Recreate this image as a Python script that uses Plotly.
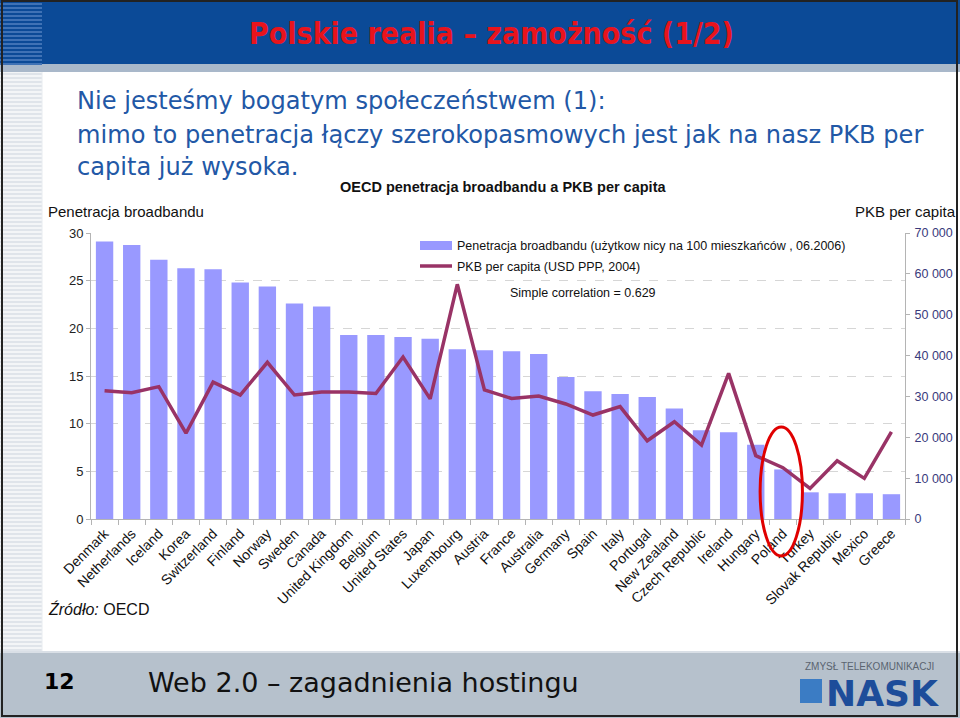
import plotly.graph_objects as go

# ---------------- data ----------------
countries = ["Denmark", "Netherlands", "Iceland", "Korea", "Switzerland", "Finland",
             "Norway", "Sweden", "Canada", "United Kingdom", "Belgium", "United States",
             "Japan", "Luxembourg", "Austria", "France", "Australia", "Germany", "Spain",
             "Italy", "Portugal", "New Zealand", "Czech Republic", "Ireland", "Hungary",
             "Poland", "Turkey", "Slovak Republic", "Mexico", "Greece"]
broadband = [29.1, 28.75, 27.2, 26.3, 26.2, 24.8, 24.4, 22.6, 22.3, 19.3, 19.3, 19.1,
             18.9, 17.8, 17.7, 17.6, 17.3, 14.9, 13.4, 13.1, 12.8, 11.6, 9.3, 9.1, 7.8,
             5.2, 2.8, 2.7, 2.7, 2.6]
gdp = [31400, 30900, 32400, 21000, 33500, 30350, 38350, 30350, 31100, 31100, 30700,
       39650, 29400, 57450, 31600, 29500, 30100, 28150, 25450, 27500, 19150, 23800,
       18100, 35650, 15500, 12550, 7500, 14250, 9950, 21350]
left_ticks = [0, 5, 10, 15, 20, 25, 30]
right_ticks = [0, 10000, 20000, 30000, 40000, 50000, 60000, 70000]
right_tick_labels = ["0", "10 000", "20 000", "30 000", "40 000", "50 000", "60 000", "70 000"]
bar_name = "Penetracja broadbandu (użytkow nicy na 100 mieszkańców , 06.2006)"
line_name = "PKB per capita (USD PPP, 2004)"
highlight = "Poland"

W, H = 960, 718
def px(x): return x / W
def py(y): return 1 - y / H

BAR_C = "#9999ff"
LINE_C = "#993366"
ARIAL = "Liberation Sans, Arial, sans-serif"
TAHOMA = "DejaVu Sans, Verdana, sans-serif"

fig = go.Figure()
fig.add_trace(go.Bar(x=countries, y=broadband, name=bar_name, marker_color=BAR_C,
                     marker_line_width=0, showlegend=False, yaxis="y"))
fig.add_trace(go.Scatter(x=countries, y=gdp, name=line_name, mode="lines",
                         line=dict(color=LINE_C, width=3.5), showlegend=False, yaxis="y2"))

shapes = []
# slide background decoration
shapes.append(dict(type="rect", xref="paper", yref="paper", x0=0, x1=1, y0=py(64), y1=1,
                   fillcolor="#0b4a97", line_width=0, layer="below"))
shapes.append(dict(type="rect", xref="paper", yref="paper", x0=0, x1=1, y0=py(72), y1=py(64),
                   fillcolor="#a9b8ca", line_width=0, layer="below"))
shapes.append(dict(type="rect", xref="paper", yref="paper", x0=0, x1=1, y0=0, y1=py(651),
                   fillcolor="#b6c1cc", line_width=0, layer="below"))
shapes.append(dict(type="line", xref="paper", yref="paper", x0=0, x1=1, y0=py(652), y1=py(652),
                   line=dict(color="#d9dfe6", width=2), layer="below"))
# left striped strip
shapes.append(dict(type="rect", xref="paper", yref="paper", x0=0, x1=px(42), y0=py(651), y1=py(72),
                   fillcolor="#f3f5f7", line_width=0, layer="below"))
for yy in range(73, 651, 4):
    shapes.append(dict(type="rect", xref="paper", yref="paper", x0=0, x1=px(42),
                       y0=py(yy + 2), y1=py(yy), fillcolor="#dfe4ea", line_width=0, layer="below"))
for yy in range(3, 64, 4):
    shapes.append(dict(type="rect", xref="paper", yref="paper", x0=0, x1=px(42),
                       y0=py(yy + 2), y1=py(yy), fillcolor="#3f72b5", line_width=0, layer="below"))
shapes.append(dict(type="line", xref="paper", yref="paper", x0=px(42), x1=px(42), y0=py(651), y1=py(72),
                   line=dict(color="#e8ecf0", width=1), layer="below"))
# frame
shapes.append(dict(type="rect", xref="paper", yref="paper", x0=px(2), x1=px(957), y0=py(716), y1=py(1),
                   line=dict(color="#222222", width=2), layer="above"))
# legend (manual)
shapes.append(dict(type="rect", xref="paper", yref="paper", x0=px(420), x1=px(452), y0=py(250), y1=py(241),
                   fillcolor=BAR_C, line_width=0))
shapes.append(dict(type="line", xref="paper", yref="paper", x0=px(420), x1=px(452), y0=py(266), y1=py(266),
                   line=dict(color=LINE_C, width=3.5)))
# highlight ellipse around Poland
pi = countries.index(highlight)
shapes.append(dict(type="circle", xref="x", yref="paper", x0=pi - 0.84, x1=pi + 0.72,
                   y0=py(556), y1=py(427), line=dict(color="#e00000", width=3), layer="above"))
# NASK icon
shapes.append(dict(type="rect", xref="paper", yref="paper", x0=px(800), x1=px(822), y0=py(703), y1=py(679),
                   fillcolor="#3b7cc4", line_width=0))

ann = []
def text(x, y, s, size, color="#000000", family=ARIAL, xanchor="left", bold=False):
    if bold:
        s = "<b>" + s + "</b>"
    ann.append(dict(x=px(x), y=py(y), xref="paper", yref="paper", text=s, showarrow=False,
                    xanchor=xanchor, yanchor="middle", font=dict(size=size, color=color, family=family)))

text(492, 34, "Polskie realia – zamożność (1/2)", 30, "#e8141c",
     "DejaVu Sans Condensed, Liberation Sans Narrow, DejaVu Sans", "center", True)
text(75, 101, "Nie jesteśmy bogatym społeczeństwem (1):", 24.1, "#2258a6", TAHOMA)
text(75, 135, "mimo to penetracja łączy szerokopasmowych jest jak na nasz PKB per", 24.1, "#2258a6", TAHOMA)
text(75, 167, "capita już wysoka.", 24.1, "#2258a6", TAHOMA)
text(503, 187, "OECD penetracja broadbandu a PKB per capita", 14.5, "#111111", ARIAL, "center", True)
text(46, 211, "Penetracja broadbandu", 15, "#111111")
text(958, 211, "PKB per capita", 15, "#111111", xanchor="right")
text(455, 246, bar_name, 12.5, "#111111")
text(455, 267, line_name, 12.5, "#111111")
text(508, 293, "Simple correlation = 0.629", 12.5, "#111111")
text(46, 609, "<i>Źródło:</i> OECD", 16, "#111111")
text(42, 681, "12", 22, "#000000", TAHOMA, bold=True)
text(146, 682, "Web 2.0 – zagadnienia hostingu", 27, "#111111", TAHOMA)
text(869, 666, "ZMYSŁ TELEKOMUNIKACJI", 10, "#5a6470", ARIAL, "center")
text(882, 693, "NASK", 36, "#1d4d9a", TAHOMA, "center", True)

common = dict(automargin=False)
fig.update_layout(
    width=W, height=H, margin=dict(l=0, r=0, t=0, b=0, pad=0), autosize=False,
    paper_bgcolor="#ffffff", plot_bgcolor="rgba(0,0,0,0)",
    bargap=0.36, showlegend=False,
    xaxis=dict(domain=[px(91), px(905)], type="category", tickangle=-45,
               tickfont=dict(size=14, color="#111111", family=ARIAL),
               showline=True, linecolor="#b4b4b4", linewidth=1,
               ticks="outside", tickson="boundaries", ticklen=5, tickcolor="#b4b4b4",
               showgrid=False, fixedrange=True, **common),
    yaxis=dict(domain=[py(519), py(233)], range=[0, 30], tickvals=left_ticks,
               tickfont=dict(size=13, color="#222222", family=ARIAL),
               showline=True, linecolor="#b4b4b4", linewidth=1,
               ticks="outside", ticklen=4, tickcolor="#b4b4b4",
               showgrid=True, gridcolor="#d6d6d6", griddash="dash", gridwidth=1,
               zeroline=False, **common),
    yaxis2=dict(overlaying="y", side="right", range=[0, 70000], tickvals=right_ticks,
                ticktext=right_tick_labels, anchor="x",
                tickfont=dict(size=12.5, color="#3a3a7c", family=ARIAL),
                showline=True, linecolor="#b4b4b4", linewidth=1,
                ticks="outside", ticklen=4, tickcolor="#b4b4b4",
                showgrid=False, zeroline=False, ticklabelstandoff=2, **common),
    shapes=shapes, annotations=ann,
)

fig.write_html("out.html", config={"displayModeBar": False},
               post_script="document.body.style.margin='0';document.body.style.overflow='hidden';")
